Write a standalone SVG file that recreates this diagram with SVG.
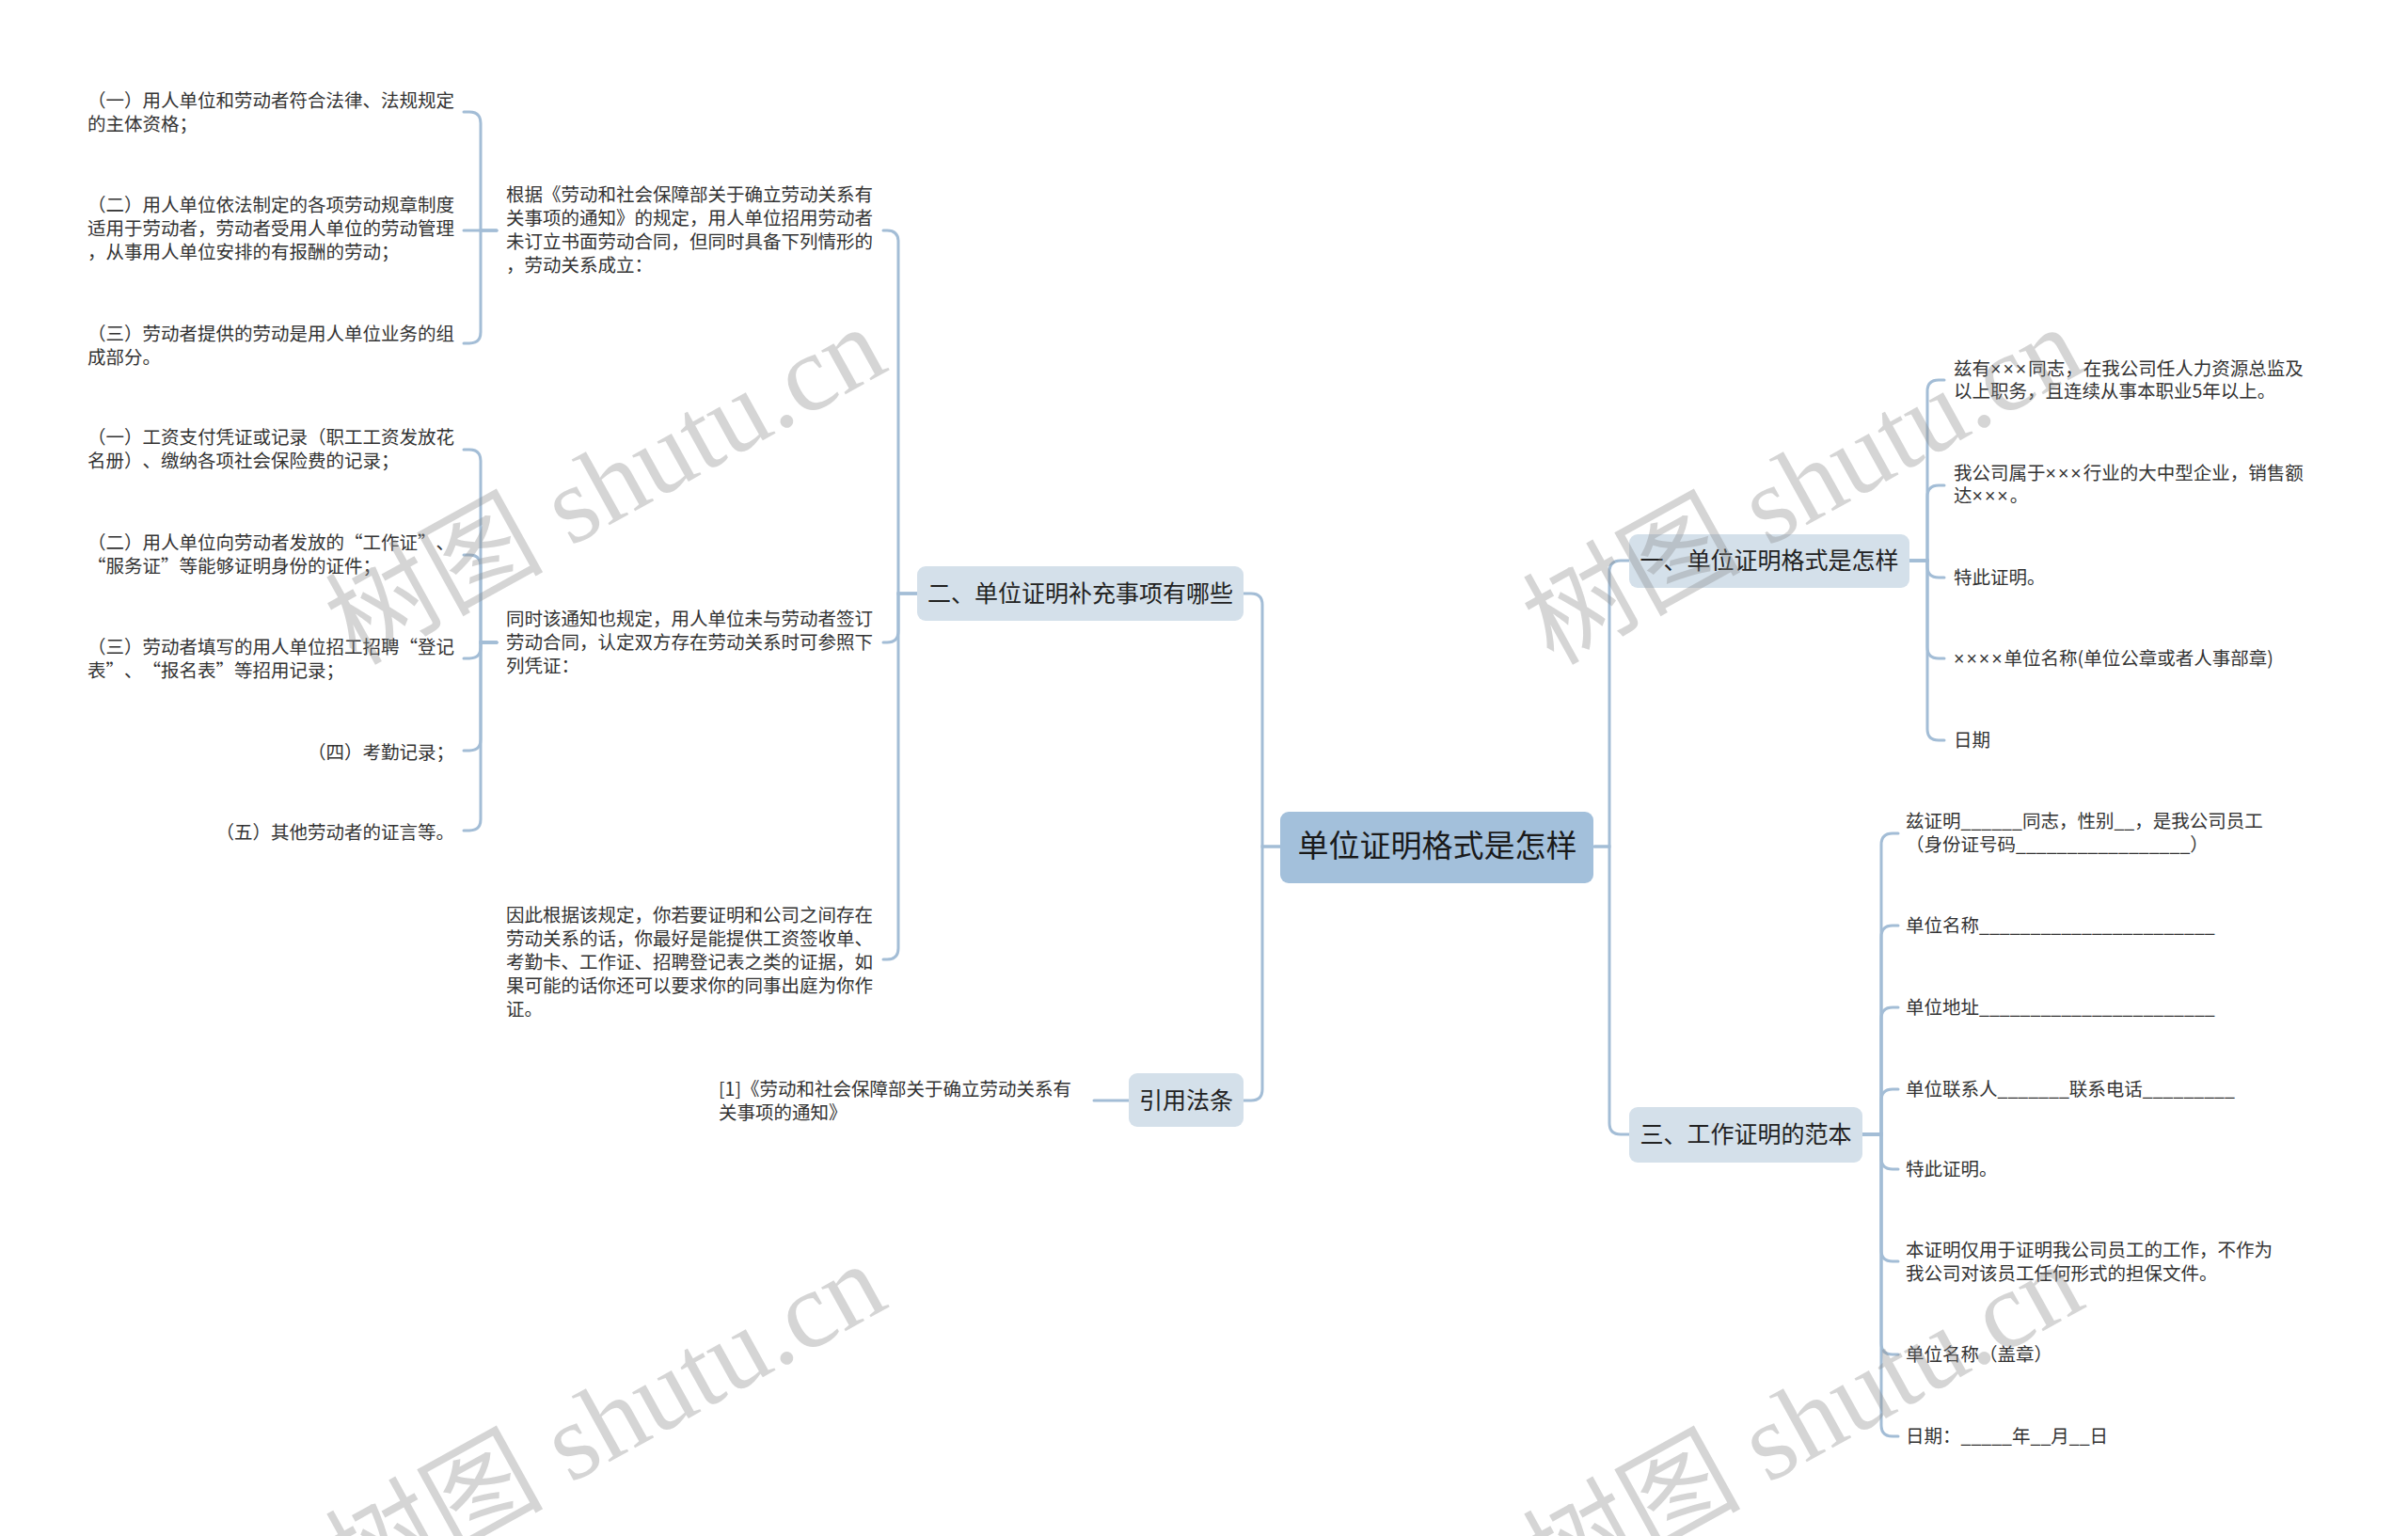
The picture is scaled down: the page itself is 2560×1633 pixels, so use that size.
<svg xmlns="http://www.w3.org/2000/svg" width="2560" height="1633" viewBox="0 0 2560 1633">
<style>
.ln{fill:none;stroke:#a3bdd6;stroke-width:3;stroke-linecap:round}
.t{font-family:"Noto Sans CJK SC","Noto Sans",sans-serif;font-size:19.5px;fill:#333;text-spacing-trim:space-all}
.x{font-family:"Liberation Sans","Noto Sans",sans-serif;letter-spacing:2px}
.b{font-family:"Noto Sans CJK SC","Noto Sans",sans-serif;font-size:25px;fill:#222;text-anchor:middle;text-spacing-trim:space-all}
.r{font-family:"Noto Sans CJK SC","Noto Sans",sans-serif;font-size:33px;fill:#1a1a1a;text-anchor:middle}
.bb{fill:#d4e0ea}
.rb{fill:#a3c0db}
.wm{font-family:"Liberation Serif","Noto Sans CJK SC",serif;font-size:116px;fill:#8a8a8a;opacity:0.35}
</style>
<rect width="2560" height="1633" fill="#ffffff"/>
<g id="connectors">
<path class="ln" d="M1362,900 H1342 V643 Q1342,631 1330,631 H1322"/>
<path class="ln" d="M1362,900 H1342 V1158 Q1342,1170 1330,1170 H1322"/>
<path class="ln" d="M1695,900 H1711 V608 Q1711,596 1723,596 H1732"/>
<path class="ln" d="M1695,900 H1711 V1194 Q1711,1206 1723,1206 H1732"/>
<path class="ln" d="M975,631 H955 V257 Q955,245 943,245 H939"/>
<path class="ln" d="M975,631 H955 V671 Q955,683 943,683 H939"/>
<path class="ln" d="M975,631 H955 V1008 Q955,1020 943,1020 H939"/>
<path class="ln" d="M528,245 H511 V131 Q511,119 499,119 H493"/>
<path class="ln" d="M528,245 H493"/>
<path class="ln" d="M528,245 H511 V353 Q511,365 499,365 H493"/>
<path class="ln" d="M528,683 H511 V490 Q511,478 499,478 H493"/>
<path class="ln" d="M528,683 H511 V602 Q511,590 499,590 H493"/>
<path class="ln" d="M528,683 H511 V688 Q511,700 499,700 H493"/>
<path class="ln" d="M528,683 H511 V786 Q511,798 499,798 H493"/>
<path class="ln" d="M528,683 H511 V871 Q511,883 499,883 H493"/>
<path class="ln" d="M1200,1170 H1163"/>
<path class="ln" d="M2029,596 H2049 V416 Q2049,404 2061,404 H2067"/>
<path class="ln" d="M2029,596 H2049 V528 Q2049,516 2061,516 H2067"/>
<path class="ln" d="M2029,596 H2049 V602 Q2049,614 2061,614 H2067"/>
<path class="ln" d="M2029,596 H2049 V688 Q2049,700 2061,700 H2067"/>
<path class="ln" d="M2029,596 H2049 V775 Q2049,787 2061,787 H2067"/>
<path class="ln" d="M1980,1206 H2000 V898 Q2000,886 2012,886 H2018"/>
<path class="ln" d="M1980,1206 H2000 V996 Q2000,984 2012,984 H2018"/>
<path class="ln" d="M1980,1206 H2000 V1083 Q2000,1071 2012,1071 H2018"/>
<path class="ln" d="M1980,1206 H2000 V1170 Q2000,1158 2012,1158 H2018"/>
<path class="ln" d="M1980,1206 H2000 V1231 Q2000,1243 2012,1243 H2018"/>
<path class="ln" d="M1980,1206 H2000 V1329 Q2000,1341 2012,1341 H2018"/>
<path class="ln" d="M1980,1206 H2000 V1428 Q2000,1440 2012,1440 H2018"/>
<path class="ln" d="M1980,1206 H2000 V1515 Q2000,1527 2012,1527 H2018"/>
</g>
<g id="root">
<rect class="rb" x="1361" y="863" width="333" height="76" rx="9"/>
<text class="r" x="1528" y="911">单位证明格式是怎样</text>
</g>
<g id="b2">
<rect class="bb" x="975" y="602" width="347" height="58" rx="9"/>
<text class="b" x="1148.5" y="640">二、单位证明补充事项有哪些</text>
</g>
<g id="bref">
<rect class="bb" x="1200" y="1141" width="122" height="57" rx="9"/>
<text class="b" x="1261" y="1179">引用法条</text>
</g>
<g id="b1">
<rect class="bb" x="1732" y="568" width="298" height="57" rx="9"/>
<text class="b" x="1881" y="605">一、单位证明格式是怎样</text>
</g>
<g id="b3">
<rect class="bb" x="1732" y="1177" width="248" height="59" rx="9"/>
<text class="b" x="1856" y="1215">三、工作证明的范本</text>
</g>
<g id="n2a">
<text class="t" x="538" y="214">根据《劳动和社会保障部关于确立劳动关系有</text>
<text class="t" x="538" y="239">关事项的通知》的规定，用人单位招用劳动者</text>
<text class="t" x="538" y="264">未订立书面劳动合同，但同时具备下列情形的</text>
<text class="t" x="538" y="289">，劳动关系成立：</text>
</g>
<g id="n2b">
<text class="t" x="538" y="665">同时该通知也规定，用人单位未与劳动者签订</text>
<text class="t" x="538" y="690">劳动合同，认定双方存在劳动关系时可参照下</text>
<text class="t" x="538" y="715">列凭证：</text>
</g>
<g id="n2c">
<text class="t" x="538" y="980">因此根据该规定，你若要证明和公司之间存在</text>
<text class="t" x="538" y="1005">劳动关系的话，你最好是能提供工资签收单、</text>
<text class="t" x="538" y="1030">考勤卡、工作证、招聘登记表之类的证据，如</text>
<text class="t" x="538" y="1055">果可能的话你还可以要求你的同事出庭为你作</text>
<text class="t" x="538" y="1080">证。</text>
</g>
<g id="n2a1">
<text class="t" x="93" y="114">（一）用人单位和劳动者符合法律、法规规定</text>
<text class="t" x="93" y="139">的主体资格；</text>
</g>
<g id="n2a2">
<text class="t" x="93" y="225">（二）用人单位依法制定的各项劳动规章制度</text>
<text class="t" x="93" y="250">适用于劳动者，劳动者受用人单位的劳动管理</text>
<text class="t" x="93" y="275">，从事用人单位安排的有报酬的劳动；</text>
</g>
<g id="n2a3">
<text class="t" x="93" y="362">（三）劳动者提供的劳动是用人单位业务的组</text>
<text class="t" x="93" y="387">成部分。</text>
</g>
<g id="n2b1">
<text class="t" x="93" y="472">（一）工资支付凭证或记录（职工工资发放花</text>
<text class="t" x="93" y="497">名册）、缴纳各项社会保险费的记录；</text>
</g>
<g id="n2b2">
<text class="t" x="93" y="584">（二）用人单位向劳动者发放的“工作证”、</text>
<text class="t" x="93" y="609">“服务证”等能够证明身份的证件；</text>
</g>
<g id="n2b3">
<text class="t" x="93" y="695">（三）劳动者填写的用人单位招工招聘“登记</text>
<text class="t" x="93" y="720">表”、“报名表”等招用记录；</text>
</g>
<g id="n2b4">
<text class="t" x="483" y="807" text-anchor="end">（四）考勤记录；</text>
</g>
<g id="n2b5">
<text class="t" x="483" y="892" text-anchor="end">（五）其他劳动者的证言等。</text>
</g>
<g id="nref">
<text class="t" x="764" y="1165">[1]《劳动和社会保障部关于确立劳动关系有</text>
<text class="t" x="764" y="1190">关事项的通知》</text>
</g>
<g id="n1a">
<text class="t" x="2077" y="399">兹有<tspan class="x">×××</tspan>同志，在我公司任人力资源总监及</text>
<text class="t" x="2077" y="423">以上职务，且连续从事本职业5年以上。</text>
</g>
<g id="n1b">
<text class="t" x="2077" y="510">我公司属于<tspan class="x">×××</tspan>行业的大中型企业，销售额</text>
<text class="t" x="2077" y="534">达<tspan class="x">×××</tspan>。</text>
</g>
<g id="n1c"><text class="t" x="2077" y="621">特此证明。</text></g>
<g id="n1d"><text class="t" x="2077" y="707"><tspan class="x">××××</tspan>单位名称(单位公章或者人事部章)</text></g>
<g id="n1e"><text class="t" x="2077" y="794">日期</text></g>
<g id="n3a">
<text class="t" x="2026" y="880">兹证明______同志，性别__，是我公司员工</text>
<text class="t" x="2026" y="905">（身份证号码_________________）</text>
</g>
<g id="n3b"><text class="t" x="2026" y="991">单位名称_______________________</text></g>
<g id="n3c"><text class="t" x="2026" y="1078">单位地址_______________________</text></g>
<g id="n3d"><text class="t" x="2026" y="1165">单位联系人_______联系电话_________</text></g>
<g id="n3e"><text class="t" x="2026" y="1250">特此证明。</text></g>
<g id="n3f">
<text class="t" x="2026" y="1336">本证明仅用于证明我公司员工的工作，不作为</text>
<text class="t" x="2026" y="1361">我公司对该员工任何形式的担保文件。</text>
</g>
<g id="n3g"><text class="t" x="2026" y="1447">单位名称（盖章）</text></g>
<g id="n3h"><text class="t" x="2026" y="1534">日期：_____年__月__日</text></g>
<g id="watermarks">
<text class="wm" transform="translate(378,708) rotate(-29)">树图 shutu.cn</text>
<text class="wm" transform="translate(1651,708) rotate(-29)">树图 shutu.cn</text>
<text class="wm" transform="translate(378,1704) rotate(-29)">树图 shutu.cn</text>
<text class="wm" transform="translate(1651,1704) rotate(-29)">树图 shutu.cn</text>
</g>
</svg>
